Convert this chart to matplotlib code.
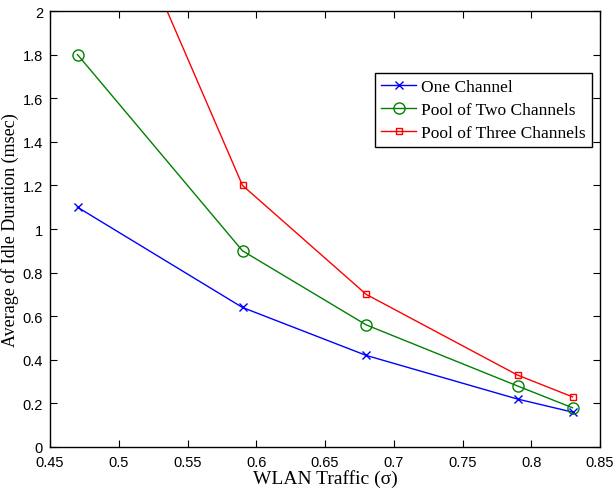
import matplotlib
matplotlib.use("Agg")
import matplotlib.pyplot as plt

traffic = [0.47, 0.59, 0.68, 0.79, 0.83]
one_channel = [1.10, 0.64, 0.42, 0.22, 0.16]
two_channels = [1.80, 0.90, 0.56, 0.28, 0.18]
three_channels = [2.95, 1.20, 0.70, 0.33, 0.23]
xticks = [0.45, 0.5, 0.55, 0.6, 0.65, 0.7, 0.75, 0.8, 0.85]
yticks = [0, 0.2, 0.4, 0.6, 0.8, 1.0, 1.2, 1.4, 1.6, 1.8, 2.0]

fig = plt.figure(figsize=(6.16, 4.89), dpi=100)
ax = fig.add_axes([50/616, 1 - 448/489, 550/616, 436/489])

ax.plot(traffic, one_channel, color='blue', marker='x', markersize=6, lw=1, label='One Channel')
ax.plot(traffic, two_channels, color='green', marker='o', markersize=8, mfc='none', lw=1, label='Pool of Two Channels')
ax.plot(traffic, three_channels, color='red', marker='s', markersize=5, mfc='none', lw=1, label='Pool of Three Channels')

ax.set_xlim(0.45, 0.85)
ax.set_ylim(0, 2)
ax.set_xticks(xticks)
ax.set_yticks(yticks)
ax.set_xticklabels([f"{v:g}" for v in xticks])
ax.set_yticklabels([f"{v:g}" for v in yticks])
ax.tick_params(direction='in', top=True, right=True, labelsize=10.5, length=5)
ax.tick_params(axis='x', pad=5.5)
ax.tick_params(axis='y', pad=5)
for lbl in ax.get_xticklabels() + ax.get_yticklabels():
    lbl.set_family('Liberation Sans')
for s in ax.spines.values():
    s.set_linewidth(1.0)

ax.set_xlabel('WLAN Traffic (σ)', family='Liberation Serif', fontsize=14, labelpad=0)
ax.set_ylabel('Average of Idle Duration (msec)', family='Liberation Serif', fontsize=13, labelpad=3)

leg = ax.legend(loc='upper right', bbox_to_anchor=(592/616, 1 - 74/489), bbox_transform=fig.transFigure,
                borderaxespad=0,
                prop={'family': 'Liberation Serif', 'size': 12.5}, fancybox=False, edgecolor='black',
                framealpha=1, borderpad=0.35, labelspacing=0.38, handlelength=2.0, handletextpad=0.3)
leg.get_frame().set_linewidth(1.0)

fig.savefig('out.png', dpi=100)
